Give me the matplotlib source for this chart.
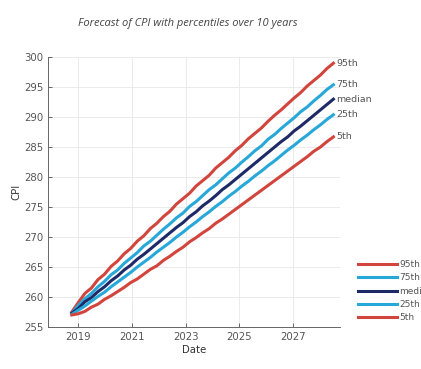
"""Forecast of CPI with percentile bands over a 10-year horizon."""

import matplotlib

matplotlib.use("Agg")
import matplotlib.pyplot as plt
import pandas as pd

# quarterly forecast values, Oct 2018 -> mid 2028
p95 = [257.5, 259.1, 260.6, 261.5, 262.9, 263.8, 265.1, 266.0, 267.2, 268.1,
       269.3, 270.2, 271.4, 272.3, 273.4, 274.3, 275.5, 276.4, 277.3, 278.5,
       279.4, 280.3, 281.5, 282.4, 283.3, 284.4, 285.3, 286.4, 287.3, 288.2,
       289.3, 290.3, 291.2, 292.2, 293.2, 294.1, 295.2, 296.1, 297.0, 298.1,
       299.0]
p75 = [257.3, 258.6, 259.7, 260.6, 261.7, 262.6, 263.7, 264.5, 265.6, 266.5,
       267.4, 268.5, 269.3, 270.3, 271.3, 272.2, 273.2, 274.0, 275.1, 275.9,
       276.9, 277.9, 278.7, 279.7, 280.7, 281.5, 282.5, 283.4, 284.4, 285.2,
       286.3, 287.1, 288.1, 289.0, 289.9, 290.9, 291.7, 292.7, 293.6, 294.6,
       295.4]
median = [257.3, 258.1, 259.2, 259.9, 260.9, 261.7, 262.7, 263.5, 264.5, 265.3,
          266.3, 267.1, 268.0, 268.9, 269.8, 270.7, 271.6, 272.4, 273.4, 274.2,
          275.2, 276.0, 276.9, 277.9, 278.7, 279.6, 280.5, 281.4, 282.3, 283.2,
          284.1, 285.0, 285.9, 286.7, 287.7, 288.5, 289.4, 290.3, 291.2, 292.1,
          293.0]
p25 = [257.1, 257.8, 258.5, 259.3, 260.1, 260.8, 261.7, 262.5, 263.3, 264.1,
       265.0, 265.8, 266.6, 267.5, 268.3, 269.1, 270.0, 270.8, 271.7, 272.5,
       273.4, 274.2, 275.1, 275.9, 276.8, 277.6, 278.5, 279.3, 280.2, 281.0,
       281.9, 282.7, 283.6, 284.5, 285.3, 286.2, 287.0, 287.9, 288.7, 289.6,
       290.4]
p5 = [257.0, 257.2, 257.6, 258.3, 258.8, 259.6, 260.2, 260.9, 261.6, 262.4,
      263.0, 263.8, 264.6, 265.2, 266.1, 266.8, 267.6, 268.3, 269.2, 269.9,
      270.7, 271.4, 272.3, 273.0, 273.8, 274.6, 275.4, 276.2, 277.0, 277.8,
      278.6, 279.4, 280.2, 281.0, 281.8, 282.6, 283.4, 284.3, 285.0, 285.9,
      286.7]

series_labels = ["95th", "75th", "median", "25th", "5th"]
tick_years = ["2019", "2021", "2023", "2025", "2027"]
y_ticks = [255, 260, 265, 270, 275, 280, 285, 290, 295, 300]

RED = "#d2453d"
CYAN = "#27a8d8"
NAVY = "#1e2a68"
TXT = "#555555"

dates = pd.date_range(start="2018-10-10", end="2028-07-01", periods=len(median))

fig = plt.figure(figsize=(4.21, 3.69), dpi=100)
ax = fig.add_axes([0.114, 0.114, 0.694, 0.731])

series = [p95, p75, median, p25, p5]
colors = [RED, CYAN, NAVY, CYAN, RED]
for vals, lab, col in zip(series, series_labels, colors):
    ax.plot(dates, vals, color=col, lw=2.2, label=lab)
    ax.annotate(lab, xy=(dates[-1], vals[-1]), xytext=(2, 0),
                textcoords="offset points", fontsize=6.8, color=TXT,
                va="center", ha="left", annotation_clip=False)

ax.set_xlim(pd.Timestamp("2017-11-20"), pd.Timestamp("2028-10-01"))
ax.set_ylim(255, 300)
ax.set_yticks(y_ticks)
ax.set_xticks([pd.Timestamp(f"{y}-01-01") for y in tick_years])
ax.set_xticklabels(tick_years)

ax.grid(True, color="#ebebeb", lw=0.7)
ax.set_axisbelow(True)
for side in ["top", "right"]:
    ax.spines[side].set_visible(False)
for side in ["left", "bottom"]:
    ax.spines[side].set_color("#666666")
    ax.spines[side].set_linewidth(0.7)
ax.tick_params(direction="in", length=3, width=0.7, colors="#666666",
               labelcolor=TXT, labelsize=7.3)

ax.set_xlabel("Date", fontsize=7.3, color="#333333", labelpad=2)
ax.set_ylabel("CPI", fontsize=7.3, color="#333333", labelpad=2)

fig.text(0.447, 0.937, "Forecast of CPI with percentiles over 10 years",
         fontsize=8, style="italic", color="#444444", ha="center", va="center",
         family="Open Sans")

fig.legend(loc="upper left", bbox_to_anchor=(0.85, 0.295), frameon=False,
           fontsize=6.5, handlelength=4.3, handletextpad=0.3,
           labelspacing=0.48, borderpad=0, borderaxespad=0, labelcolor=TXT)

fig.savefig("out.png", dpi=100)
